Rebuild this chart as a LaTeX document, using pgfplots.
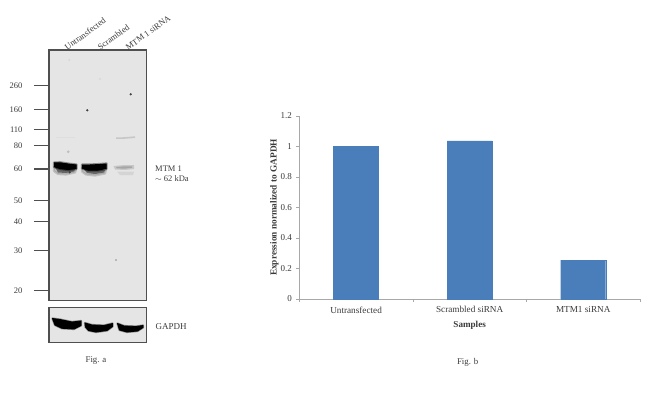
\documentclass[border=0pt]{standalone}
\usepackage{fontspec}
\setmainfont{Liberation Serif}
\usepackage{pgfplots}
\pgfplotsset{compat=1.18}
\definecolor{barblue}{HTML}{4A7EBB}
\definecolor{inktext}{HTML}{3A3A3A}
\definecolor{frameink}{HTML}{4F4F4F}
\definecolor{blotbg}{HTML}{E5E5E5}
\definecolor{axisgrey}{HTML}{A8A8A8}
\pgfplotsset{
  blot/.style={
    scale only axis, y dir=reverse,
    axis background/.style={fill=blotbg},
    axis line style={draw=frameink,line width=1.5pt},
    clip=true,
    xmin=49, xmax=146.7,
  },
  band/.style={draw=none,fill=#1,forget plot},
  halo/.style={draw=#1,line width=2.2pt,line join=round,fill=#1,opacity=0.4,forget plot},
  core/.style={draw=#1,line width=0.8pt,line join=round,fill=#1,forget plot},
}
\begin{document}
\begin{tikzpicture}
\path[use as bounding box] (0,0) rectangle (650pt,408pt);

% Fig. a: main blot, axis units are pixels of the reference
\begin{axis}[
  blot, name=blotmain,
  at={(49pt,107.3pt)}, anchor=south west,
  width=97.7pt, height=250.7pt,
  ymin=50, ymax=300.7,
  ytick={85.7,109.3,129.7,145.3,169,200.7,221.3,250.3,290.7},
  yticklabels={260,160,110,80,60,50,40,30,20},
  xtick={62,95,123},
  xticklabels={Untransfected,Scrambled,MTM 1 siRNA},
  xticklabel pos=upper,
  x tick style={draw=none},
  x tick label style={rotate=36,anchor=south west,font=\fontsize{8.6}{9}\selectfont,text=inktext,inner sep=0pt,xshift=-5pt,yshift=-16pt},
  y tick label style={font=\fontsize{8.5}{10}\selectfont,text=inktext,xshift=-8pt},
  y tick style={draw=frameink,line width=1.3pt},
  tick align=outside, major tick length=15pt,
  ytick pos=left,
  /pgf/number format/assume math mode=true,
]
% shadow under the 62 kDa bands
\addplot[halo=black!45] coordinates {(54,167)(64,170)(76,170)(75,172.5)(66,174.5)(58,174)(54,171)} -- cycle;
\addplot[band=black!60] coordinates {(55,167)(64,169)(75,169)(74,171.5)(66,173)(58,172.5)} -- cycle;
\addplot[halo=black!45] coordinates {(82,168)(95,170)(106,170)(105,173.5)(95,175.5)(86,174.5)(82,171.5)} -- cycle;
\addplot[band=black!60] coordinates {(83,168)(95,170)(105,170)(104,172.5)(95,174)(87,173)} -- cycle;
\addplot[band=black!17] coordinates {(117,171.5)(134,171.5)(133,175)(120,175)} -- cycle;
% dark bands
\addplot[halo=black] coordinates {(54,162.5)(60,162.3)(70,163.8)(76.5,164.5)(76.5,169)(68,170)(60,169)(54,167)} -- cycle;
\addplot[band=black] coordinates {(54,162.5)(60,162.3)(70,163.8)(76.5,164.5)(76.5,169)(68,170)(60,169)(54,167)} -- cycle;
\addplot[halo=black] coordinates {(82,164.5)(90,164.5)(100,164)(106.5,163.5)(106.5,169)(98,170.5)(88,170.5)(82,168.5)} -- cycle;
\addplot[band=black] coordinates {(82,164.5)(90,164.5)(100,164)(106.5,163.5)(106.5,169)(98,170.5)(88,170.5)(82,168.5)} -- cycle;
\addplot[band=black!22] coordinates {(113.5,166)(125,165)(134,165)(134,169)(125,170)(115,169.5)} -- cycle;
\addplot[band=black!35] coordinates {(116,167)(125,166.3)(132,166.3)(132,167.8)(125,168.6)(117,168.4)} -- cycle;
% faint bands near 110
\addplot[band=black!22] coordinates {(116,137.5)(124,137.2)(135,136.3)(135,138)(124,138.8)(116,139)} -- cycle;
\addplot[band=black!13] coordinates {(56,136.5)(75,136.5)(75,138)(56,138)} -- cycle;
% specks
\addplot[only marks,mark=*,mark size=0.9pt,black!75,forget plot] coordinates {(87.3,110.3)(130.7,94.3)(69.7,172.3)};
\addplot[only marks,mark=*,mark size=1.1pt,black!25,forget plot] coordinates {(68.3,151.7)};
\addplot[only marks,mark=*,mark size=0.9pt,black!15,forget plot] coordinates {(69.3,60)(100,79)};
\addplot[only marks,mark=*,mark size=0.5pt,black!40,forget plot] coordinates {(116,260)};
\end{axis}

% Fig. a: GAPDH strip
\begin{axis}[
  blot,
  at={(49pt,65.3pt)}, anchor=south west,
  width=97.7pt, height=35pt,
  ymin=307.7, ymax=342.7,
  xtick=\empty, ytick=\empty,
]
\addplot[halo=black] coordinates {(52.5,318.5)(60,319.5)(72,322)(81,321)(81,325.5)(74,329)(62,328.3)(55,325)} -- cycle;
\addplot[core=black] coordinates {(52.5,318.5)(60,319.5)(72,322)(81,321)(81,325.5)(74,329)(62,328.3)(55,325)} -- cycle;
\addplot[halo=black] coordinates {(85,323)(92,325)(104,325.5)(112.5,323.5)(112.5,326.5)(107,330.5)(96,332)(88.5,330.5)(85.5,327)} -- cycle;
\addplot[core=black] coordinates {(85,323)(92,325)(104,325.5)(112.5,323.5)(112.5,326.5)(107,330.5)(96,332)(88.5,330.5)(85.5,327)} -- cycle;
\addplot[halo=black] coordinates {(117.5,323.5)(124,326)(136,326.5)(143,325.5)(143,327.5)(137.5,331)(127,332)(119.5,330)} -- cycle;
\addplot[core=black] coordinates {(117.5,323.5)(124,326)(136,326.5)(143,325.5)(143,327.5)(137.5,331)(127,332)(119.5,330)} -- cycle;
\end{axis}

\node[anchor=west,inner sep=0pt,inktext,font=\fontsize{8.5}{10.5}\selectfont,align=left] at (155pt,234.5pt) {MTM 1\\$\sim$ 62 kDa};
\node[anchor=west,inner sep=0pt,inktext,font=\fontsize{9}{10}\selectfont] at (155.5pt,81pt) {GAPDH};
\node[inktext,font=\fontsize{8.8}{10}\selectfont] at (96pt,47pt) {Fig. a};

% Fig. b: normalized expression
\begin{axis}[
  at={(299.3pt,109pt)}, anchor=south west,
  scale only axis, width=340.7pt, height=183.3pt,
  xmin=0.5, xmax=3.5, ymin=0, ymax=1.2,
  axis x line*=bottom, axis y line*=left,
  axis line style={draw=axisgrey,-},
  ybar, bar width=45pt, bar shift=0pt,
  xtick={1,2,3},
  xticklabels={Untransfected,Scrambled siRNA,MTM1 siRNA},
  minor xtick={0.5,1.5,2.5,3.5},
  ytick={0,0.2,0.4,0.6,0.8,1,1.2},
  yticklabel style={/pgf/number format/fixed},
  major x tick style={draw=none},
  minor tick length=3pt,
  major tick length=3pt,
  tick align=outside,
  every tick/.style={draw=axisgrey},
  x tick label style={font=\fontsize{9.2}{10}\selectfont,text=inktext,yshift=-1pt},
  y tick label style={font=\fontsize{9}{10}\selectfont,text=inktext,xshift=-1pt},
  /pgf/number format/assume math mode=true,
  xlabel={\textbf{Samples}},
  ylabel={\textbf{Expression normalized to GAPDH}},
  xlabel style={font=\fontsize{9.1}{10}\selectfont,text=inktext,yshift=-1pt},
  ylabel style={font=\fontsize{9.3}{10}\selectfont,text=inktext,yshift=-5pt},
]
\addplot[fill=barblue,draw=barblue] coordinates {(1,1)(2,1.035)(3,0.255)};
\end{axis}
\node[inktext,font=\fontsize{8.8}{10}\selectfont] at (467.7pt,46pt) {Fig. b};
\end{tikzpicture}
\end{document}
